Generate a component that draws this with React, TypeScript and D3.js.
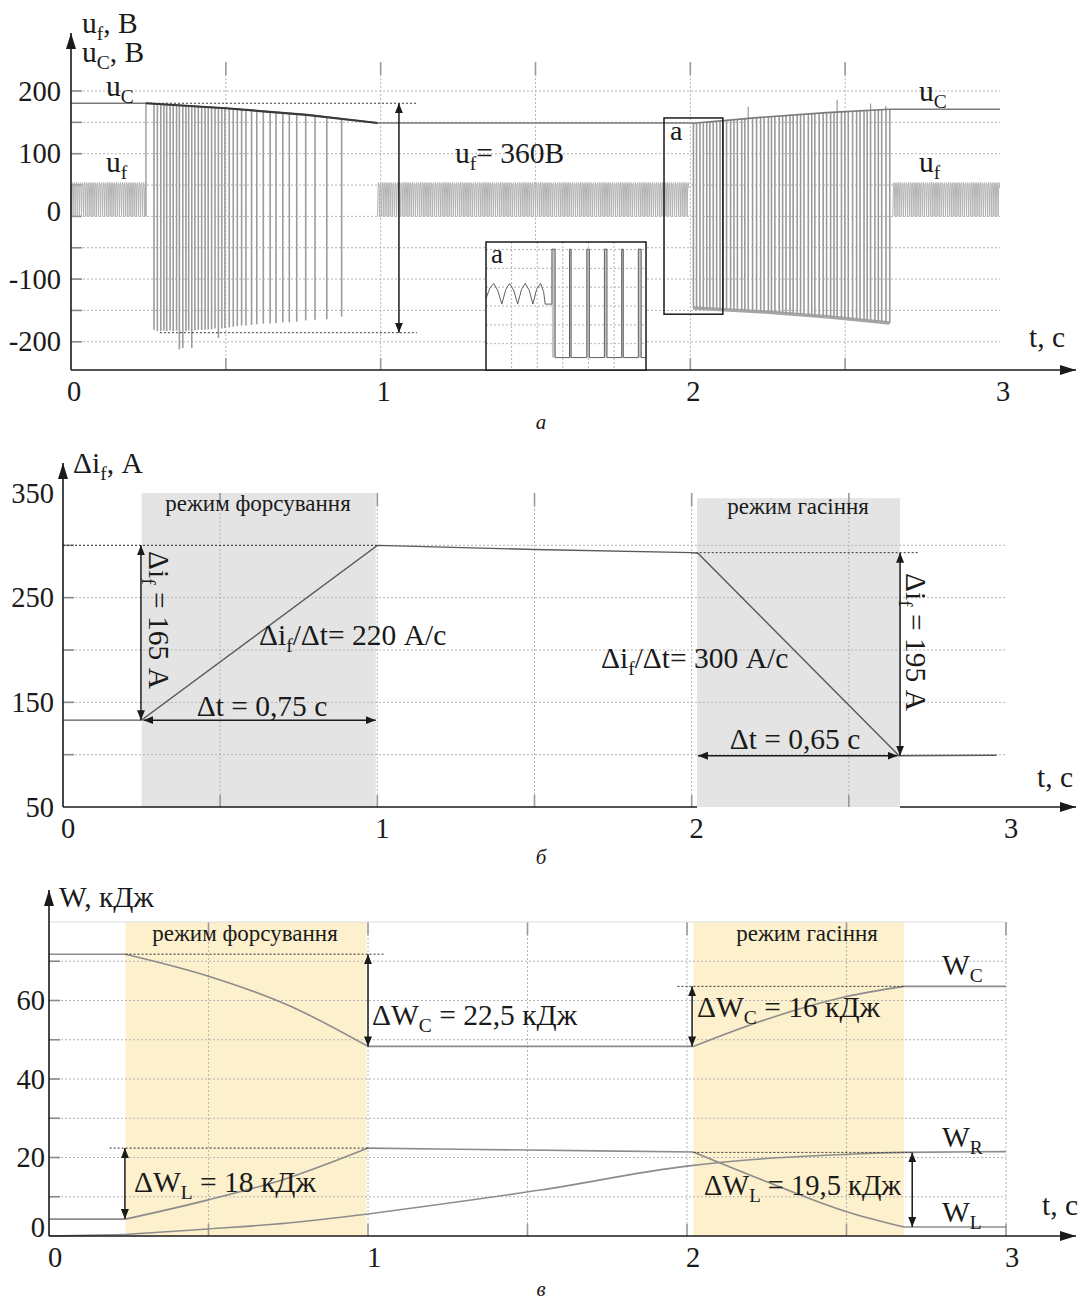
import React from 'react';
import * as d3 from 'd3';

// ---------- panel а : u_f, u_C (V) ----------
const uCTime = [0, 0.242, 0.5, 0.761, 0.99, 2.0, 2.009, 2.226, 2.44, 2.644, 3.0];
const uCVolt = [180.5, 180.5, 172.5, 162, 149, 149, 148.6, 158, 165.5, 171, 171];

// rectifier ripple of u_f in normal mode: one cycle (V), its period (s) and where it shows
const rippleShape = [0, 47, 54, 45];
const ripplePeriod = 0.0068;
const rippleSpans = [[0, 0.242], [0.99, 1.996], [2.654, 3.0]];

// forcing: u_f sits on u_C with short negative pulses
const forcingSpikeT = [0.268, 0.279, 0.29, 0.3, 0.309, 0.32, 0.33, 0.341, 0.35, 0.361, 0.371, 0.38, 0.39, 0.4, 0.411, 0.422, 0.433, 0.443, 0.454, 0.465, 0.476, 0.487, 0.497, 0.511, 0.524, 0.537, 0.551, 0.565, 0.583, 0.6, 0.621, 0.643, 0.662, 0.684, 0.705, 0.729, 0.758, 0.788, 0.826, 0.874];
const forcingSpikeMin = [-181, -183, -183, -182, -183, -182, -183, -182, -212, -210, -183, -182, -210, -182, -181, -181, -181, -180, -180, -179, -194, -179, -178, -177, -176, -175, -174, -174, -173, -172, -171, -171, -170, -169, -169, -168, -166, -165, -164, -160];

// quench: u_f sits on -u_C with short positive pulses
const quenchSpikeT = [2.01, 2.02, 2.031, 2.042, 2.053, 2.063, 2.074, 2.085, 2.096, 2.106, 2.117, 2.13, 2.141, 2.152, 2.166, 2.176, 2.187, 2.201, 2.214, 2.227, 2.238, 2.252, 2.262, 2.273, 2.287, 2.298, 2.309, 2.322, 2.332, 2.345, 2.356, 2.367, 2.381, 2.392, 2.402, 2.416, 2.429, 2.44, 2.453, 2.464, 2.474, 2.488, 2.499, 2.51, 2.524, 2.537, 2.548, 2.561, 2.571, 2.582, 2.596, 2.607, 2.618, 2.632, 2.644];
const quenchBaseT = [2.009, 2.226, 2.44, 2.644];
const quenchBaseV = [-146, -152, -160, -170];
const overshootT = [2.187, 2.474, 2.582, 2.631];
const overshootV = [175, 186, 180, 176];

const aYTicks = [200, 100, 0, -100, -200];
const aYGrid = [200, 150, 100, 50, 0, -50, -100, -150, -200];
const tTicks = [0, 1, 2, 3];
const tGrid = [0.5, 1, 1.5, 2, 2.5];

// inset "a" (own units: time 0..100, volts)
const insetArchT = [0, 2.5, 4.8, 7.3, 9.9, 12.4, 14.8, 17.3, 19.8, 22.2, 24.5, 27, 29.3, 31.6, 34.1, 36, 37, 41.2];
const insetArchV = [20, 48, 60, 42, 5, 44, 60, 42, 5, 44, 60, 42, 5, 44, 60, 38, 5, 5];
const insetPulses = [[41.2, 43.2], [52.2, 53.2], [63, 64.6], [74, 75.6], [84.8, 85.8], [95.2, 97]];
const insetHigh = 151;
const insetLow = -137;
const insetXGrid = [16, 32, 48, 64, 80];
const insetYGrid = [150, 100, 50, 0, -50, -100];

// ---------- panel б : Δi_f (A) ----------
const ifTime = [0, 0.25, 1.0, 1.5, 2.0, 2.02, 2.66, 2.97];
const ifAmp = [133, 133, 300, 296, 293, 292.5, 99, 99.5];
const bYTicks = [350, 250, 150, 50];
const bYGrid = [300, 250, 200, 150, 100];
const forcingZoneB = [0.25, 0.995];
const quenchZoneB = [2.017, 2.663];

// ---------- panel в : W (kJ) ----------
const wcT = [0, 0.24, 0.5, 0.75, 1.0, 2.02, 2.26, 2.5, 2.68, 3.0];
const wcV = [71.8, 71.8, 66.2, 58.8, 48.3, 48.3, 55.5, 61, 63.6, 63.6];
const wlT = [0, 0.24, 0.5, 0.75, 1.0, 1.5, 2.02, 2.26, 2.5, 2.68, 3.0];
const wlV = [4.3, 4.3, 9.2, 14.8, 22.4, 21.9, 21.4, 13.5, 6.2, 2.3, 2.3];
const wrT = [0, 0.24, 0.5, 0.75, 1.0, 1.54, 2.0, 2.26, 2.5, 2.68, 3.0];
const wrV = [0, 0.4, 1.8, 3.3, 5.6, 11.7, 17.8, 19.8, 20.8, 21.3, 21.5];
const wKinks = [0.24, 1.0, 2.02, 2.68];
const cYTicks = [60, 40, 20, 0];
const cYGrid = [70, 60, 50, 40, 30, 20, 10];
const forcingZoneC = [0.24, 0.995];
const quenchZoneC = [2.02, 2.68];

const FONT = '"Liberation Serif", "DejaVu Serif", "Times New Roman", serif';
const INK = '#1a1a1a';
const GRID = '#b4b4b4';
const FS = 29.5; // annotation text
const TS = 28.5; // tick labels

type Sc = d3.ScaleLinear<number, number>;

function Sub({ x = 0, y = 0, base, sub, rest = '', size = FS, anchor = 'start', transform }: any) {
  const d = size * 0.24;
  return (
    <text x={x} y={y} fontSize={size} textAnchor={anchor} transform={transform} fill={INK} fontFamily={FONT}>
      {base}
      <tspan fontSize={size * 0.66} dy={d}>{sub}</tspan>
      {rest ? <tspan dy={-d}>{rest}</tspan> : null}
    </text>
  );
}

function grid(x: Sc, y: Sc, yGrid: number[], xGrid: number[], yTop: number, key: string) {
  const x0 = x(0), x1 = x(3), yb = y.range()[0], yt = y(yTop);
  return (
    <g key={key}>
      {yGrid.map(v => (
        <g key={'h' + v}>
          <line x1={x0} x2={x1} y1={y(v)} y2={y(v)} stroke={GRID} strokeWidth={1} strokeDasharray="2 2" />
          <line x1={x0} x2={x0 + 11} y1={y(v)} y2={y(v)} stroke="#8a8a8a" strokeWidth={1.6} />
        </g>
      ))}
      {xGrid.map(t => (
        <g key={'v' + t}>
          <line x1={x(t)} x2={x(t)} y1={yt} y2={yb} stroke={GRID} strokeWidth={1} strokeDasharray="2 2" />
          <line x1={x(t)} x2={x(t)} y1={yt} y2={yt + 13} stroke="#9a9a9a" strokeWidth={1.6} />
          <line x1={x(t)} x2={x(t)} y1={yb - 12} y2={yb} stroke="#9a9a9a" strokeWidth={1.6} />
        </g>
      ))}
    </g>
  );
}

function axes(x: Sc, y: Sc, yTip: number, xTip: number) {
  const x0 = x(0), yb = y.range()[0];
  return (
    <g>
      <line x1={x0} y1={yb} x2={x0} y2={yTip} stroke={INK} strokeWidth={1.6} markerEnd="url(#axhead)" />
      <line x1={x0} y1={yb} x2={xTip} y2={yb} stroke={INK} strokeWidth={1.6} markerEnd="url(#axhead)" />
    </g>
  );
}

function tickLabels(x: Sc, y: Sc, yTicks: number[], yRight: number, xBase: number, xShift: number, zeroLift = 0) {
  return (
    <g fontFamily={FONT} fontSize={TS} fill={INK}>
      {yTicks.map(v => (
        <text key={'y' + v} x={yRight} y={y(v) + 9.5 - (v === 0 ? zeroLift : 0)} textAnchor="end">{v}</text>
      ))}
      {tTicks.map(t => (
        <text key={'x' + t} x={x(t) + xShift} y={xBase} textAnchor="middle">{t}</text>
      ))}
    </g>
  );
}

function splitAt(ts: number[], vs: number[], kinks: number[]) {
  const segs: [number, number][][] = [];
  let cur: [number, number][] = [];
  ts.forEach((t, i) => {
    cur.push([t, vs[i]]);
    if (kinks.includes(t)) {
      segs.push(cur);
      cur = [[t, vs[i]]];
    }
  });
  if (cur.length > 1) segs.push(cur);
  return segs;
}

function dotted(x1: number, y1: number, x2: number, y2: number) {
  return <line x1={x1} y1={y1} x2={x2} y2={y2} stroke="#333" strokeWidth={1} strokeDasharray="2 2" />;
}

function dArrow(x1: number, y1: number, x2: number, y2: number) {
  return <line x1={x1} y1={y1} x2={x2} y2={y2} stroke={INK} strokeWidth={1.5} markerStart="url(#ah)" markerEnd="url(#ah)" />;
}

export default function App() {
  // ----- panel а -----
  const xA = d3.scaleLinear().domain([0, 3]).range([71, 1000]);
  const yA = d3.scaleLinear().domain([-245, 200]).range([370, 91]);
  const uCAt = d3.scaleLinear().domain(uCTime).range(uCVolt);
  const baseAt = d3.scaleLinear().domain(quenchBaseT).range(quenchBaseV).clamp(true);
  const lineA = d3.line<[number, number]>().x(d => xA(d[0])).y(d => yA(d[1]));

  const ripplePaths = rippleSpans.map(([t0, t1]) => {
    const n = rippleShape.length;
    const dt = ripplePeriod / n;
    const pts: [number, number][] = [];
    for (let k = 0; t0 + k * dt <= t1; k++) pts.push([t0 + k * dt, rippleShape[k % n]]);
    return lineA(pts);
  });
  const uCPts = uCTime.map((t, i) => [t, uCVolt[i]] as [number, number]);
  const forcingPts = uCPts.filter(p => p[0] >= 0.242 && p[0] <= 0.99);
  const basePts = quenchBaseT.map((t, i) => [t, quenchBaseV[i]] as [number, number]);

  const xI = d3.scaleLinear().domain([0, 100]).range([486, 646]);
  const yI = d3.scaleLinear().domain([-170, 170]).range([370, 242]);
  const insetPts: [number, number][] = insetArchT.map((t, i) => [t, insetArchV[i]]);
  insetPulses.forEach(([s, e], i) => {
    if (i > 0) insetPts.push([s, insetLow]);
    insetPts.push([s, insetHigh], [e, insetHigh], [e, insetLow]);
  });
  insetPts.push([99.6, insetLow]);
  const insetLine = d3.line<[number, number]>().x(d => xI(d[0])).y(d => yI(d[1]));

  // ----- panel б -----
  const xB = d3.scaleLinear().domain([0, 3]).range([63, 1006]);
  const yB = d3.scaleLinear().domain([50, 350]).range([807, 493]);
  const lineB = d3.line<[number, number]>().x(d => xB(d[0])).y(d => yB(d[1]));
  const ifPts = ifTime.map((t, i) => [t, ifAmp[i]] as [number, number]);

  // ----- panel в -----
  const xC = d3.scaleLinear().domain([0, 3]).range([49, 1006]);
  const yC = d3.scaleLinear().domain([0, 80]).range([1236, 922]);
  const lineC = d3.line<[number, number]>().x(d => xC(d[0])).y(d => yC(d[1])).curve(d3.curveMonotoneX);
  const wSeries = [
    splitAt(wcT, wcV, wKinks),
    splitAt(wlT, wlV, wKinks),
    splitAt(wrT, wrV, [0.24, 1.0]),
  ];

  return (
    <svg width={1079} height={1303} style={{ position: 'absolute', left: 0, top: 0, background: '#fff' }}
      fontFamily={FONT}>
      <defs>
        <marker id="axhead" viewBox="0 0 16 10" refX={16} refY={5} markerWidth={16} markerHeight={10}
          markerUnits="userSpaceOnUse" orient="auto">
          <path d="M0,0 L16,5 L0,10 z" fill={INK} />
        </marker>
        <marker id="ah" viewBox="0 0 10 8" refX={10} refY={4} markerWidth={10} markerHeight={8}
          markerUnits="userSpaceOnUse" orient="auto-start-reverse">
          <path d="M0,0 L10,4 L0,8 z" fill={INK} />
        </marker>
      </defs>
      <rect width={1079} height={1303} fill="#fff" />

      {/* ================= а ================= */}
      {grid(xA, yA, aYGrid, tGrid, 246, 'ga')}
      {ripplePaths.map((d, i) => (
        <path key={'r' + i} d={d || ''} fill="none" stroke="#b2b2b2" strokeWidth={1} />
      ))}
      <line x1={xA(0.242)} x2={xA(0.242)} y1={yA(0)} y2={yA(uCAt(0.242))} stroke="#a0a0a0" strokeWidth={1.5} />
      {forcingSpikeT.map((t, i) => (
        <line key={'fs' + i} x1={xA(t)} x2={xA(t)} y1={yA(uCAt(t))} y2={yA(forcingSpikeMin[i])}
          stroke="#9c9c9c" strokeWidth={1.6} />
      ))}
      <path d={lineA(basePts) || ''} fill="none" stroke="#a6a6a6" strokeWidth={3.5} />
      {quenchSpikeT.map((t, i) => (
        <line key={'qs' + i} x1={xA(t)} x2={xA(t)} y1={yA(baseAt(t))} y2={yA(uCAt(t))}
          stroke="#9a9a9a" strokeWidth={1.6} />
      ))}
      {overshootT.map((t, i) => (
        <line key={'os' + i} x1={xA(t)} x2={xA(t)} y1={yA(uCAt(t))} y2={yA(overshootV[i])}
          stroke="#9a9a9a" strokeWidth={1.2} />
      ))}
      <path d={lineA(uCPts) || ''} fill="none" stroke="#7a7a7a" strokeWidth={1.6} />
      <path d={lineA(forcingPts) || ''} fill="none" stroke="#3a3a3a" strokeWidth={2.2} />

      {dotted(xA(0.242), yA(180.5), xA(1.117), yA(180.5))}
      {dotted(xA(0.287), yA(-185.5), xA(1.117), yA(-185.5))}
      {dArrow(xA(1.059), yA(180.5), xA(1.059), yA(-185.5))}

      {axes(xA, yA, 33, 1076)}
      {tickLabels(xA, yA, aYTicks, 61, 401, 3, 5)}
      <Sub x={82} y={33} base="u" sub="f" rest=", В" />
      <Sub x={82} y={62} base="u" sub="C" rest=", В" />
      <Sub x={106} y={96} base="u" sub="C" />
      <Sub x={106} y={172} base="u" sub="f" />
      <Sub x={919} y={101} base="u" sub="C" />
      <Sub x={919} y={172} base="u" sub="f" />
      <Sub x={455} y={163} base="u" sub="f" rest="= 360В" />
      <text x={1029} y={347} fontSize={FS} fill={INK}>t, с</text>

      {/* box a on the trace */}
      <rect x={xA(1.915)} y={yA(157)} width={xA(2.105) - xA(1.915)} height={yA(-156) - yA(157)}
        fill="none" stroke={INK} strokeWidth={1.5} />
      <text x={670} y={140} fontSize={28} fill={INK}>a</text>

      {/* inset */}
      <rect x={xI(0)} y={yI(170)} width={xI(100) - xI(0)} height={yI(-170) - yI(170)} fill="#fff" />
      {insetXGrid.map(t => (
        <line key={'ix' + t} x1={xI(t)} x2={xI(t)} y1={yI(170)} y2={yI(-170)} stroke={GRID} strokeDasharray="2 2" />
      ))}
      {insetYGrid.map(v => (
        <line key={'iy' + v} x1={xI(0)} x2={xI(100)} y1={yI(v)} y2={yI(v)} stroke={GRID} strokeDasharray="2 2" />
      ))}
      {insetPulses.map(([s, e], i) => (
        <rect key={'ip' + i} x={xI(s)} y={yI(insetHigh)} width={xI(e) - xI(s)} height={yI(insetLow) - yI(insetHigh)}
          fill="#c4c4c4" />
      ))}
      <path d={insetLine(insetPts) || ''} fill="none" stroke="#606060" strokeWidth={1} />
      <rect x={xI(0)} y={yI(170)} width={xI(100) - xI(0)} height={yI(-170) - yI(170)} fill="none"
        stroke={INK} strokeWidth={1.5} />
      <text x={491} y={263} fontSize={27} fill={INK}>a</text>

      <text x={541} y={429} fontSize={21} fontStyle="italic" textAnchor="middle" fill={INK}>а</text>

      {/* ================= б ================= */}
      <rect x={xB(forcingZoneB[0])} y={yB(350)} width={xB(forcingZoneB[1]) - xB(forcingZoneB[0])}
        height={yB(50) - yB(350)} fill="#e4e4e4" />
      <rect x={xB(quenchZoneB[0])} y={yB(345)} width={xB(quenchZoneB[1]) - xB(quenchZoneB[0])}
        height={yB(50) - yB(345)} fill="#e4e4e4" />
      {grid(xB, yB, bYGrid, tGrid, 350, 'gb')}
      {dotted(xB(0), yB(300), xB(1.0), yB(300))}
      {dotted(xB(2.0), yB(293), xB(2.72), yB(293))}
      <path d={lineB(ifPts) || ''} fill="none" stroke="#5a5a5a" strokeWidth={1.4} />
      <line x1={xB(0)} y1={yB(350)} x2={xB(0)} y2={463} stroke={INK} strokeWidth={1.6} markerEnd="url(#axhead)" />
      <line x1={xB(0)} y1={yB(50)} x2={xB(quenchZoneB[0])} y2={yB(50)} stroke={INK} strokeWidth={1.6} />
      <line x1={xB(0)} y1={yB(50)} x2={xB(0)} y2={yB(350)} stroke={INK} strokeWidth={1.6} />
      <line x1={xB(quenchZoneB[1])} y1={yB(50)} x2={1076} y2={yB(50)} stroke={INK} strokeWidth={1.6}
        markerEnd="url(#axhead)" />
      {tickLabels(xB, yB, bYTicks, 54, 838, 5)}
      <Sub x={73} y={473} base="Δi" sub="f" rest=", А" />
      <text x={258} y={511} fontSize={23} textAnchor="middle" fill={INK}>режим форсування</text>
      <text x={798} y={514} fontSize={23} textAnchor="middle" fill={INK}>режим гасіння</text>

      {dArrow(xB(0.248), yB(300), xB(0.248), yB(133))}
      {dArrow(xB(0.256), yB(133), xB(0.995), yB(133))}
      <Sub transform="translate(149,551) rotate(90)" base="Δi" sub="f" rest=" = 165 А" />
      <text x={262} y={716} fontSize={FS} textAnchor="middle" fill={INK}>Δt = 0,75 с</text>
      <Sub x={259} y={645} base="Δi" sub="f" rest="/Δt= 220 А/с" />

      {dArrow(xB(2.663), yB(293), xB(2.663), yB(99))}
      {dArrow(xB(2.02), yB(99), xB(2.655), yB(99))}
      <Sub transform="translate(906,573) rotate(90)" base="Δi" sub="f" rest=" = 195 А" />
      <text x={795} y={749} fontSize={FS} textAnchor="middle" fill={INK}>Δt = 0,65 с</text>
      <Sub x={601} y={668} base="Δi" sub="f" rest="/Δt= 300 А/с" />
      <text x={1037} y={787} fontSize={FS} fill={INK}>t, с</text>

      <text x={541} y={864} fontSize={21} fontStyle="italic" textAnchor="middle" fill={INK}>б</text>

      {/* ================= в ================= */}
      <rect x={xC(forcingZoneC[0])} y={yC(80)} width={xC(forcingZoneC[1]) - xC(forcingZoneC[0])}
        height={yC(0) - yC(80)} fill="#fdf0cc" />
      <rect x={xC(quenchZoneC[0])} y={yC(80)} width={xC(quenchZoneC[1]) - xC(quenchZoneC[0])}
        height={yC(0) - yC(80)} fill="#fdf0cc" />
      {grid(xC, yC, cYGrid, [...tGrid, 3], 80, 'gc')}
      <line x1={xC(0)} x2={xC(3)} y1={yC(80)} y2={yC(80)} stroke="#dedede" strokeWidth={1.2} />
      {wSeries.map((segs, si) => segs.map((seg, k) => (
        <path key={'w' + si + k} d={lineC(seg) || ''} fill="none" stroke="#8c8c8c" strokeWidth={1.6} />
      )))}
      {axes(xC, yC, 890, 1076)}
      {tickLabels(xC, yC, cYTicks, 45, 1267, 6, 9)}
      <text x={59} y={907} fontSize={FS} fill={INK}>W, кДж</text>
      <text x={245} y={941} fontSize={23} textAnchor="middle" fill={INK}>режим форсування</text>
      <text x={807} y={941} fontSize={23} textAnchor="middle" fill={INK}>режим гасіння</text>

      {dotted(xC(0.24), yC(71.8), xC(1.054), yC(71.8))}
      {dArrow(xC(1.0), yC(71.8), xC(1.0), yC(48.3))}
      <Sub x={372} y={1025} base="ΔW" sub="C" rest=" = 22,5 кДж" />

      {dotted(xC(0.19), yC(22.4), xC(1.0), yC(22.4))}
      {dArrow(xC(0.238), yC(22.4), xC(0.238), yC(4.3))}
      <Sub x={134} y={1192} base="ΔW" sub="L" rest=" = 18 кДж" />

      {dotted(xC(1.97), yC(63.6), xC(2.68), yC(63.6))}
      {dArrow(xC(2.016), yC(63.6), xC(2.016), yC(48.3))}
      <Sub x={697} y={1017} base="ΔW" sub="C" rest=" = 16 кДж" />

      {dotted(xC(2.02), yC(21.3), xC(2.71), yC(21.3))}
      {dArrow(xC(2.706), yC(21.3), xC(2.706), yC(2.3))}
      <Sub x={704} y={1195} base="ΔW" sub="L" rest=" = 19,5 кДж" size={28.5} />

      <Sub x={942} y={975} base="W" sub="C" />
      <Sub x={942} y={1147} base="W" sub="R" />
      <Sub x={942} y={1222} base="W" sub="L" />
      <text x={1042} y={1215} fontSize={FS} fill={INK}>t, с</text>

      <text x={541} y={1296} fontSize={21} fontStyle="italic" textAnchor="middle" fill={INK}>в</text>
    </svg>
  );
}
